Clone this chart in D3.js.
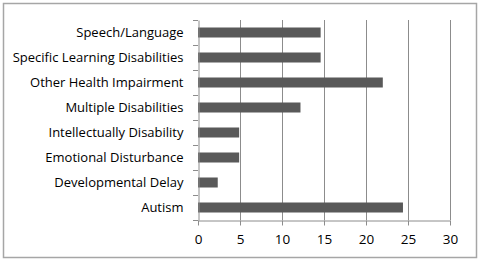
<!DOCTYPE html>
<html><head><meta charset="utf-8">
<script src="https://cdn.jsdelivr.net/npm/d3@7"></script>
<style>body{margin:0;background:#fff}svg{display:block}</style>
</head><body>
<script>
const categories = ["Speech/Language","Specific Learning Disabilities","Other Health Impairment","Multiple Disabilities","Intellectually Disability","Emotional Disturbance","Developmental Delay","Autism"];
const values = [14.6,14.6,22.0,12.2,4.9,4.9,2.35,24.4];
const xTicks = [0,5,10,15,20,25,30];

const W=482,H=261;
const svg=d3.select("body").append("svg").attr("width",W).attr("height",H);
svg.append("rect").attr("x",3.5).attr("y",3.5).attr("width",473).attr("height",254).attr("fill","#fff").attr("stroke","#a6a6a6").attr("stroke-width",1.5);

const x=d3.scaleLinear().domain([0,30]).range([198,450]);
const y=d3.scaleBand().domain(categories).range([20,220]).paddingInner(0.6).paddingOuter(0.3);
const font="'Open Sans', sans-serif";
const axisColor="#8c8c8c";

svg.append("g").selectAll("line").data(xTicks.slice(1)).join("line")
  .attr("x1",d=>Math.round(x(d))+0.5).attr("x2",d=>Math.round(x(d))+0.5)
  .attr("y1",20).attr("y2",220).attr("stroke",axisColor).attr("stroke-width",1);

svg.append("g").selectAll("rect").data(categories).join("rect")
  .attr("x",x(0)).attr("y",d=>y(d)).attr("height",y.bandwidth())
  .attr("width",(d,i)=>x(values[i])-x(0)).attr("fill","#595959");

const xAxis=svg.append("g").attr("transform","translate(0,220.5)")
  .call(d3.axisBottom(x).tickValues(xTicks).tickSize(5).tickSizeOuter(0).tickPadding(9));
const yb=d3.scaleBand().domain(categories).range([20,220]);
const yAxis=svg.append("g").attr("transform","translate(198.5,0)")
  .call(d3.axisLeft(yb).tickSize(0).tickPadding(15));
svg.append("g").selectAll("line").data(d3.range(9)).join("line")
  .attr("x1",193).attr("x2",198).attr("y1",d=>Math.round(20+d*25)+0.5).attr("y2",d=>Math.round(20+d*25)+0.5)
  .attr("stroke",axisColor);

[xAxis,yAxis].forEach(g=>{
  g.selectAll("path,line").attr("stroke",axisColor);
  g.selectAll("text").attr("font-family",font).attr("font-size",13).attr("fill","#000");
});
xAxis.selectAll("text").attr("font-size",13.5);
yAxis.selectAll("text").attr("dy","0.35em").attr("y",0);
</script>
</body></html>
